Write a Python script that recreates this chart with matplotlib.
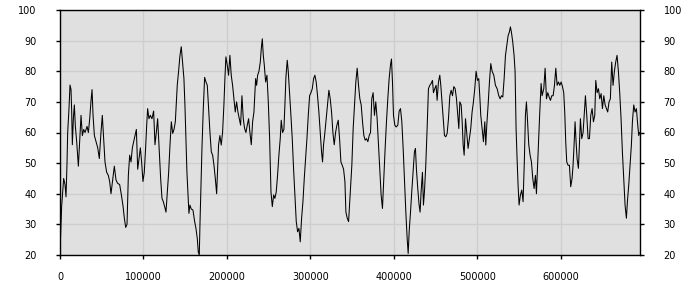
import numpy as np
import matplotlib
matplotlib.use('Agg')
from matplotlib import pyplot as plt

# sample positions (thousands) and values
x_k = [0, 2.0, 4.4, 6.0, 7.2, 8.4, 9.2, 10.8, 12.0, 13.2, 14.0, 14.8, 16.0, 17.2, 18.4, 20.0, 22.0, 23.6,
       25.2, 26.8, 28.4, 30.0, 32.4, 34.0, 35.6, 37.2, 38.4, 39.6, 41.2, 43.2, 45.2, 47.1, 49.1, 50.7,
       52.3, 53.9, 55.9, 57.9, 59.5, 61.1, 63.1, 65.1, 67.1, 69.1, 71.5, 73.9, 75.5, 77.1, 78.7, 80.3,
       81.9, 83.5, 85.1, 86.7, 88.3, 89.9, 91.5, 93.1, 94.7, 96.3, 97.8, 99.4, 101.0, 102.6, 103.8,
       105.0, 106.6, 108.2, 110.2, 112.2, 113.8,
       115.4, 117.0, 118.2, 119.4, 120.6, 122.2, 123.8, 125.4, 127.0, 128.6, 130.2, 131.8, 133.4, 135.0,
       136.6, 138.2, 139.3, 140.5, 142.1, 143.7, 145.3, 146.9, 148.5, 149.7, 150.9, 152.1, 153.3, 154.5,
       155.7, 157.3, 159.3, 161.3, 162.9, 164.5, 165.7, 166.9, 167.7, 168.9, 170.1, 171.7, 173.3, 174.9,
       176.5, 178.1, 179.7, 181.3, 182.9, 184.5, 186.1, 187.7, 188.8, 190.0, 191.6, 193.2, 194.8, 196.4,
       197.6, 198.8, 200.4, 202.0, 203.6, 205.2, 206.8, 208.4, 210.0, 211.6, 213.2, 214.8, 216.4, 218.0,
       219.6, 221.2, 222.8, 224.4, 226.0, 227.6, 229.2, 230.8, 232.4,
       233.2, 234.4, 235.6, 236.8, 238.4, 240.0, 241.2, 242.4, 243.6, 244.8, 246.4, 248.0, 249.6, 251.2,
       252.8, 254.4, 256.0, 257.5, 259.1, 260.7, 262.3, 263.9, 265.1, 266.7, 268.3, 269.5, 270.7, 272.3,
       273.5, 275.1, 276.7, 278.3, 279.9, 281.5, 283.1, 284.7, 286.3, 287.9, 289.5, 291.1, 292.7, 294.3,
       295.9, 297.5, 299.1, 300.7, 302.3, 303.9, 305.4, 307.0, 308.6, 310.2, 311.8, 313.4, 314.6, 315.8,
       317.4, 319.0, 320.6, 322.2, 323.8, 325.4, 327.0, 328.6, 330.2, 331.8, 333.4, 335.0, 336.6, 338.2,
       339.8, 341.4, 342.6, 344.2, 345.8,
       347.7, 349.7, 351.3, 352.9, 354.5, 356.1, 357.7, 359.3, 360.9, 362.5, 364.1, 365.7, 367.3, 368.9,
       370.5, 372.1, 373.6, 375.2, 376.8, 378.4, 380.0, 381.6, 383.2, 384.8, 386.4, 388.0, 389.6, 391.2,
       392.8, 394.4, 396.0, 397.2, 398.4, 399.6, 401.2, 402.8, 404.8, 406.4, 408.0, 409.6, 411.2, 412.8,
       414.4, 416.0, 417.2, 418.4, 420.0, 421.5, 423.1, 424.7, 425.9, 427.1, 428.7, 430.3, 431.5, 432.7,
       434.3, 435.5, 436.7, 438.3, 439.9, 441.5, 443.1, 444.7, 446.3, 447.5, 449.1, 450.7, 451.9, 453.5,
       455.1, 456.3, 457.5, 459.1, 460.7, 462.3, 463.9,
       465.5, 467.1, 468.7, 470.3, 471.9, 473.5, 475.1, 476.3, 477.9, 479.1, 480.7, 481.9, 483.1, 484.3,
       485.9, 487.4, 489.0, 490.6, 492.2, 493.8, 495.4, 497.0, 498.6, 500.2, 501.8, 503.0, 504.2, 505.8,
       507.4, 509.0, 510.2, 511.4, 513.0, 514.6, 516.2, 517.8, 519.8, 521.8, 523.8, 525.8, 527.4, 529.0,
       530.6, 532.2, 533.8, 535.4, 537.0, 538.5, 539.7, 540.9, 542.5, 544.1, 545.3, 546.5, 547.7, 548.9,
       550.1, 551.7, 553.3, 554.9, 556.5, 557.7, 558.9, 560.1, 561.7, 563.3, 564.9, 566.5, 568.1, 569.7,
       570.9, 572.1, 573.7, 574.9, 576.5, 577.7,
       579.7, 581.3, 582.9, 584.5, 586.1, 587.7, 589.3, 590.9, 592.5, 594.1, 595.7, 597.3, 598.9, 600.5,
       602.1, 603.6, 604.8, 606.0, 607.2, 608.8, 610.4, 612.0, 613.6, 614.8, 616.0, 617.2, 618.4, 619.6,
       621.2, 622.4, 623.6, 625.2, 626.8, 628.4, 629.6, 631.2, 632.8, 634.4, 636.0, 637.6, 639.2, 640.8,
       642.0, 643.6, 645.2, 646.8, 648.4, 650.0, 651.6, 653.2, 654.8, 656.3, 657.9, 659.5, 661.1, 662.7,
       664.3, 665.9, 667.5, 669.1, 670.7, 672.3, 673.9, 675.5, 677.1, 678.7, 679.9, 681.5, 683.1, 684.7,
       685.9, 687.5, 689.1, 690.7, 692.3, 693.5, 694.6]

values = [21, 36, 45, 43, 39, 50, 60, 68, 75.5, 74, 67, 56, 64.5, 69, 62, 57, 49, 57,
          65.6, 59, 61, 60, 62, 60, 64.5, 70.5, 74, 65.6, 59, 57, 55, 51.5, 60, 65.6,
          58, 50.4, 47, 46, 44, 40, 44.5, 49, 44.5, 43.4, 43, 39, 36, 32, 29, 30,
          46, 52.6, 50.4, 55, 57, 59, 61, 48, 51.5, 55, 50.4, 44, 47, 55, 62,
          67.8, 64.5, 65.6, 64.5, 67, 56,
          60, 64.5, 58, 51.5, 45, 38.5, 37.4, 35.8, 34, 40.6, 47, 56, 63.5, 59.7,
          61, 63.5, 69, 75.4, 80, 85, 88, 83, 77.6, 69, 58, 47, 40.6, 33.6,
          36.3, 35, 34.7, 31, 28.7, 25.4, 21, 20, 29.8, 42.8, 54.8, 67.8, 78, 76.5,
          75.4, 67.8, 60, 53.7, 52.6, 49.3, 45, 40, 48, 56, 59, 55.9, 60, 69,
          77.6, 84.7, 82, 78.7, 85.2, 78.7, 75.4, 71, 66.7, 70, 66.7, 64.5, 62.4, 72,
          64.5, 61.3, 60, 62.4, 64.5, 60, 56, 63.5, 66.7,
          71, 77.6, 75.4, 78.7, 80, 83, 87.4, 90.6, 85.2, 82, 76.5, 78.7, 70, 58,
          40.6, 35.8, 39.6, 38.5, 40.6, 46, 52.6, 58, 64, 60, 61, 69, 78, 83.6,
          80, 73, 65.6, 58, 48, 39.6, 30.9, 27.6, 28.7, 24.3, 32, 37.4, 45, 51.5,
          58, 65.6, 72, 73, 74.3, 77.6, 78.7, 76.5, 72, 66.7, 60, 53.7, 50.4, 56,
          60, 64.5, 69, 73.8, 71, 66.7, 60, 56, 60, 62.4, 64, 58, 50.4, 49.3,
          48, 44, 34, 32, 30.9,
          39.6, 49.3, 61.3, 69, 76.5, 81, 75.4, 71, 69, 63.5, 59, 57.5, 58, 57,
          59, 60, 71, 73, 65.6, 70, 64.5, 56, 47, 39.6, 35.2, 45, 54.8, 63.5,
          71, 77.6, 82, 84, 76.5, 65.6, 62.4, 61.8, 62.4, 67, 67.8, 63.5, 54.8, 44,
          34, 25.4, 20.5, 27.6, 34, 40.6, 47, 53.7, 54.8, 48, 41.7, 36.3, 34, 40.6,
          47, 36.3, 40.6, 49.3, 61.3, 74.3, 75.4, 76, 77, 73, 74.3, 75.4, 70.5, 76.5,
          78.7, 75.4, 71, 65.6, 59, 58.6, 59.7,
          64.5, 72, 73.8, 72, 75, 74.3, 71, 66.7, 61.3, 70, 69, 63.5, 55.9, 52.6,
          64.5, 60, 54.8, 58, 61.3, 66.7, 70, 74.3, 80, 77, 77.6, 72, 65.6, 61.3,
          57, 63.5, 55.9, 62.4, 69, 76.5, 82.5, 80, 78.7, 75.4, 74.3, 72, 71, 72,
          71.6, 77.6, 85.2, 88.5, 91.7, 92.8, 94.5, 92.8, 89.6, 85.2, 80, 61.3, 51.5, 42.8,
          36.3, 39.6, 41.2, 37.4, 51.5, 65.6, 70, 64.5, 56, 52.6, 50.4, 45, 41.7, 46,
          40, 48, 58, 66.7, 76, 72,
          74.3, 81, 71, 73, 71.6, 70.5, 72, 72, 75.4, 81, 75.4, 76.5, 75.4, 76.5,
          75, 73, 66.7, 57, 50.4, 49.3, 49.3, 42.3, 45, 49.3, 55.9, 63.5, 57, 51.5,
          48.3, 55.9, 64.5, 58, 60, 66.7, 72, 65.6, 58, 58, 65.6, 67.8, 63.5, 65.6,
          77, 73, 74.3, 71, 72.7, 67.8, 72, 69, 67.8, 66.7, 70, 71, 83, 75.4,
          80, 83, 85.2, 80, 73, 64.5, 53.7, 45, 36.3, 32, 37.4, 42.8, 49.3, 56,
          63.5, 69, 66.7, 67.8, 62.4, 59, 60]

x = np.array(x_k) * 1000

fig = plt.figure(figsize=(7, 3), dpi=100)
ax = fig.add_axes([60 / 700, 45 / 300, 580 / 700, 245 / 300])
ax.set_facecolor('#e0e0e0')

ax.plot(x, values, color='black', lw=0.75)

ax.set_xlim(0, 695000)
ax.set_ylim(20, 100)
ax.set_xticks(np.arange(0, 700000, 100000))
ax.set_yticks(np.arange(20, 101, 10))
ax.grid(True, color='#cecece', lw=1)
ax.set_axisbelow(True)

ax.tick_params(axis='y', which='both', left=True, right=True, labelleft=True, labelright=True,
               length=3, width=1, pad=14, labelsize=7, colors='black')
ax.tick_params(axis='x', length=3, width=1, pad=9, labelsize=7, colors='black')
for s in ax.spines.values():
    s.set_color('black')
    s.set_linewidth(1)

plt.savefig('out.png', dpi=100)
